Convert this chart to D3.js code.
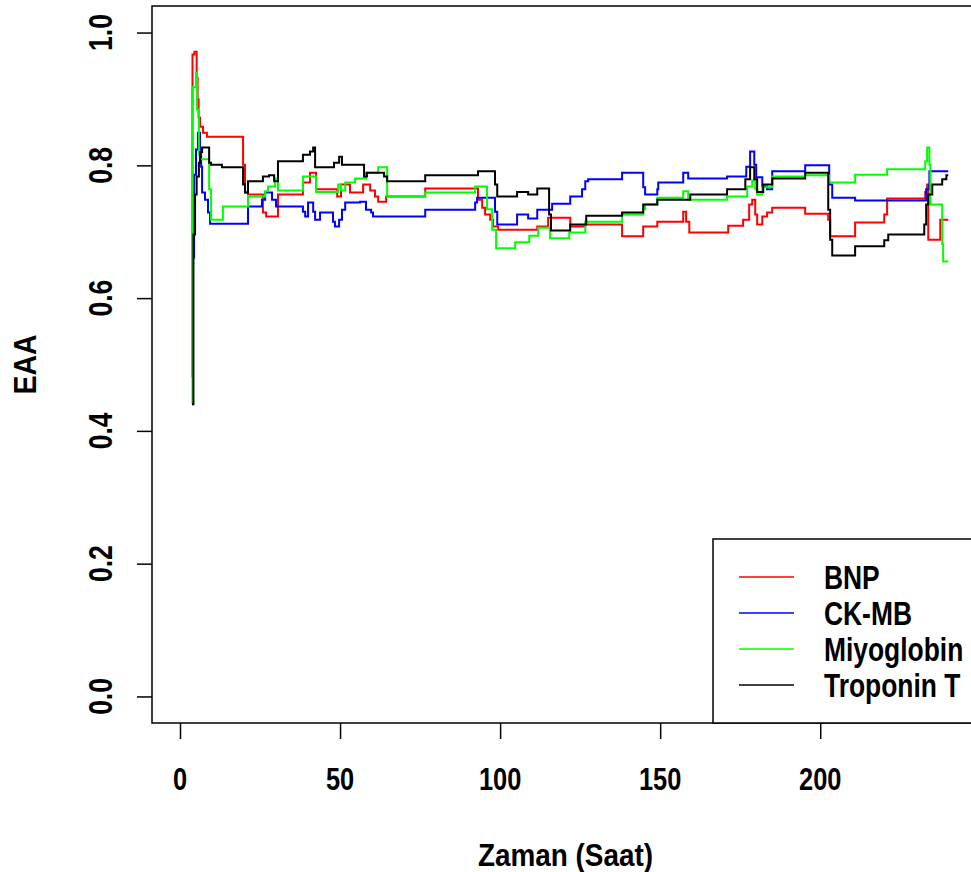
<!DOCTYPE html>
<html lang="tr">
<head>
    <meta charset="UTF-8">
    <title>EAA</title>
    <script src="https://d3js.org/d3.v7.min.js"></script>
    <style>body { margin: 0; background: #fff; }</style>
</head>
<body>
    <div id="chart"></div>
<script>
// step series: time (hours) and EAA
var bnpTime = [3.75,3.9,4.5,5.2,5.5,5.8,6.25,7.2,8.4,19.7,20.3,21.25,25.9,26.9,30.6,38.4,40.6,42.5,49.1,50.3,53.1,57.2,59.4,60.9,61.9,64.4,76.6,93.1,94.4,95.3,96.9,97.8,99.4,111.6,115,121.9,126.6,138.1,144.7,149.1,157.2,158.1,159.1,171.25,175.9,177.8,178.75,179.7,180.3,181.9,183.4,185,195.3,202.5,203.1,210.9,220,220.9,232.8,233.4,233.75,237.5,240];
var bnpEAA  = [0.48,0.967,0.971,0.932,0.899,0.872,0.858,0.849,0.843,0.801,0.759,0.756,0.729,0.723,0.756,0.774,0.789,0.764,0.753,0.771,0.759,0.771,0.762,0.753,0.745,0.753,0.765,0.748,0.736,0.726,0.718,0.708,0.703,0.708,0.721,0.708,0.711,0.693,0.708,0.715,0.730,0.715,0.699,0.709,0.718,0.741,0.748,0.726,0.711,0.723,0.729,0.736,0.727,0.718,0.693,0.714,0.726,0.750,0.760,0.771,0.688,0.718,0.718];

var ckmbTime = [4.06,4.4,5.0,5.6,6.25,6.6,6.9,7.8,8.75,9.4,21.25,25.6,26.6,28.75,30,38.4,39.1,40,41.6,42.2,43.75,47.8,48.4,49.7,50.6,51.6,56.25,58.1,59.7,60.3,76.6,92.2,92.8,98.4,99.1,105.3,108.75,111.6,116.25,121.9,125.6,126.6,127.5,138.1,144.7,145.3,149.1,149.4,157.2,158.75,170.9,176.9,178.1,179.4,180,181.9,183.4,185,195.3,202.8,203.75,210.9,233.1,234.1,240];
var ckmbEAA  = [0.661,0.786,0.824,0.849,0.824,0.798,0.759,0.748,0.729,0.712,0.738,0.748,0.759,0.748,0.738,0.730,0.723,0.744,0.730,0.718,0.729,0.715,0.708,0.718,0.733,0.744,0.745,0.733,0.729,0.723,0.733,0.744,0.751,0.730,0.711,0.726,0.720,0.733,0.742,0.753,0.764,0.776,0.779,0.789,0.767,0.756,0.764,0.774,0.789,0.780,0.783,0.798,0.821,0.801,0.782,0.768,0.764,0.791,0.800,0.771,0.751,0.747,0.764,0.791,0.791];

var miyoTime = [3.75,3.9,4.7,5.0,5.3,5.9,6.25,9.1,9.7,13.4,21.25,26.6,27.5,29.7,30.6,38.4,42.5,49.4,50.3,51.6,54.7,58.1,61.9,64.7,76.6,92.2,95.9,97.5,98.75,104.7,109.1,111.9,115.6,121.6,126.6,138.1,144.7,145.3,149.1,157.2,158.75,170.9,177.2,178.75,179.7,180.3,181.9,185,195.3,202.8,210.9,220.9,232.8,233.4,234.1,234.4,238.1,238.4,240];
var miyoEAA  = [0.44,0.918,0.918,0.94,0.884,0.816,0.809,0.764,0.718,0.738,0.753,0.761,0.768,0.780,0.762,0.783,0.760,0.771,0.762,0.774,0.780,0.789,0.797,0.753,0.759,0.768,0.734,0.703,0.675,0.684,0.694,0.706,0.690,0.699,0.715,0.726,0.734,0.741,0.751,0.761,0.748,0.753,0.768,0.777,0.764,0.756,0.767,0.783,0.785,0.774,0.786,0.794,0.806,0.827,0.801,0.741,0.681,0.655,0.655];

var tropTime = [3.75,4.2,4.7,5.2,5.9,6.25,6.9,9.1,9.7,13.1,19.7,20.3,21.25,25.9,27.8,29.4,30.6,38.4,40.6,41.6,42.2,48.1,49.7,50.6,57.5,58.4,63.75,64.7,76.6,93.1,98.4,99.1,105.3,108.75,111.6,115.3,115.9,121.9,126.9,138.1,144.7,149.1,159.4,170.9,176.6,178.1,179.4,180.3,182.2,185,195.3,202.5,203.1,203.75,210.9,220,221.25,232.5,233.1,233.75,235,238.1,239.4,240];
var tropEAA  = [0.44,0.696,0.756,0.783,0.804,0.820,0.827,0.804,0.801,0.797,0.771,0.759,0.776,0.783,0.785,0.776,0.806,0.816,0.821,0.827,0.797,0.804,0.813,0.801,0.783,0.789,0.783,0.776,0.785,0.791,0.771,0.753,0.760,0.756,0.765,0.726,0.702,0.711,0.724,0.729,0.741,0.748,0.756,0.764,0.779,0.797,0.779,0.760,0.771,0.780,0.789,0.733,0.688,0.664,0.678,0.687,0.696,0.711,0.741,0.756,0.771,0.779,0.785,0.785];

var seriesNames  = ["BNP", "CK-MB", "Miyoglobin", "Troponin T"];
var seriesColors = ["#ff0000", "#0000ff", "#00ff00", "#000000"];
var xTicks = [0, 50, 100, 150, 200];
var yTicks = [0, 0.2, 0.4, 0.6, 0.8, 1.0];
var yTickLabels = ["0.0", "0.2", "0.4", "0.6", "0.8", "1.0"];

var series = [
    {name: seriesNames[0], color: seriesColors[0], t: bnpTime,  v: bnpEAA},
    {name: seriesNames[1], color: seriesColors[1], t: ckmbTime, v: ckmbEAA},
    {name: seriesNames[2], color: seriesColors[2], t: miyoTime, v: miyoEAA},
    {name: seriesNames[3], color: seriesColors[3], t: tropTime, v: tropEAA}
];

var margin = {top: 6, left: 152},
    width = 827,
    height = 717;

var font = "'Liberation Sans', Arial, sans-serif";

var svg = d3.select("#chart")
    .append("svg")
        .attr("width", 971)
        .attr("height", 872)
        .style("display", "block");

var g = svg.append("g")
    .attr("transform", "translate(" + margin.left + "," + margin.top + ")");

var x = d3.scaleLinear().domain([-8.75, 249.6]).range([0, width]);
var y = d3.scaleLinear().domain([-0.04, 1.04]).range([height, 0]);

// condensed bold text like the R device output
function label(parent, px, py, rot, txt, size, sx) {
    parent.append("g")
        .attr("transform", "translate(" + px + "," + py + ") rotate(" + rot + ")")
      .append("text")
        .attr("transform", "scale(" + sx + ",1)")
        .attr("text-anchor", "middle")
        .style("font-family", font)
        .style("font-weight", "bold")
        .style("font-size", size + "px")
        .attr("fill", "#000")
        .text(txt);
}

// axes (ticks only, labels drawn separately)
var xAxis = g.append("g")
    .attr("transform", "translate(0," + height + ")")
    .call(d3.axisBottom(x).tickValues(xTicks).tickSize(16).tickFormat(""));
var yAxis = g.append("g")
    .call(d3.axisLeft(y).tickValues(yTicks).tickSize(15).tickFormat(""));
[xAxis, yAxis].forEach(function(a) {
    a.select(".domain").remove();
    a.selectAll("line").attr("stroke", "#000").attr("stroke-width", 1.5);
});

xTicks.forEach(function(d) {
    label(g, x(d), height + 67, 0, String(d), 31, 0.82);
});
yTicks.forEach(function(d, i) {
    label(g, -40, y(d), -90, yTickLabels[i], 34, 0.78);
});

// axis titles
label(svg, margin.left + width / 2, 866, 0, "Zaman (Saat)", 31, 0.9);
label(svg, 36, margin.top + height / 2, -90, "EAA", 31, 0.92);

// lines
g.append("clipPath").attr("id", "clip")
    .append("rect").attr("width", width).attr("height", height);

var line = d3.line()
    .curve(d3.curveStepAfter)
    .x(function(d) { return x(d[0]); })
    .y(function(d) { return y(d[1]); });

g.selectAll(".series")
    .data(series)
    .enter()
    .append("path")
        .attr("class", "series")
        .attr("clip-path", "url(#clip)")
        .attr("fill", "none")
        .attr("stroke", function(d) { return d.color; })
        .attr("stroke-width", 2)
        .attr("d", function(d) { return line(d.t.map(function(t, i) { return [t, d.v[i]]; })); });

// plot box
g.append("rect")
    .attr("width", width)
    .attr("height", height)
    .attr("fill", "none")
    .attr("stroke", "#000")
    .attr("stroke-width", 1.5);

// legend
var legend = svg.append("g").attr("transform", "translate(713,539)");
legend.append("rect")
    .attr("width", 300)
    .attr("height", 184)
    .attr("fill", "#fff")
    .attr("stroke", "#000")
    .attr("stroke-width", 1.5);

series.forEach(function(s, i) {
    var ly = 38 + i * 36;
    legend.append("line")
        .attr("x1", 26).attr("x2", 81)
        .attr("y1", ly).attr("y2", ly)
        .attr("stroke", s.color)
        .attr("stroke-width", 1.5);
    var t = legend.append("g").attr("transform", "translate(111," + (ly + 12) + ")")
      .append("text")
        .attr("transform", "scale(0.8,1)")
        .style("font-family", font)
        .style("font-weight", "bold")
        .style("font-size", "33px")
        .text(s.name);
});
</script>
</body>
</html>
